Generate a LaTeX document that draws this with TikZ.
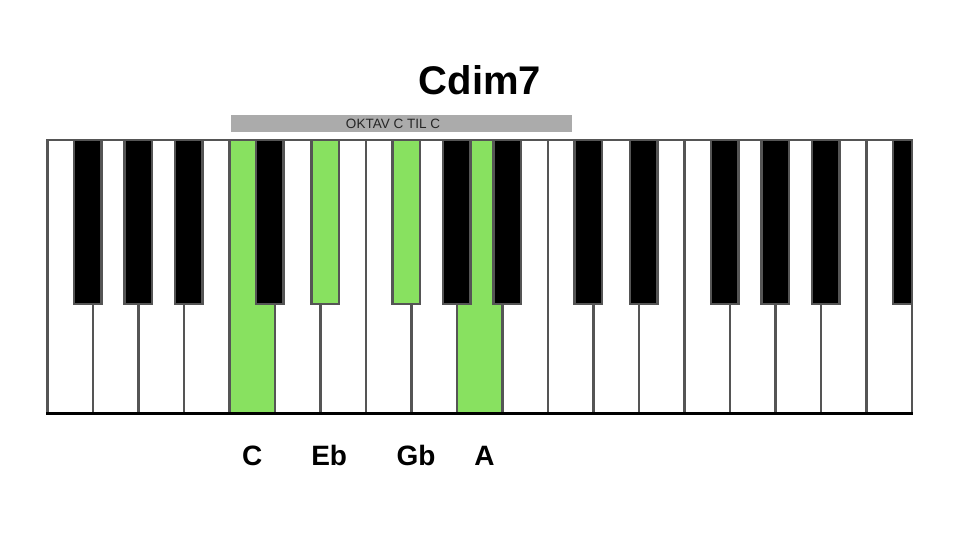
\documentclass[tikz,border=0pt]{standalone}
\usepackage{fontspec}
\setmainfont{Liberation Sans}
\definecolor{keygreen}{HTML}{88E160}
\definecolor{edgegray}{HTML}{555555}
\definecolor{bargray}{HTML}{ABABAB}
\begin{document}
\begin{tikzpicture}[x=1pt,y=-1pt,
  divider/.style={draw=edgegray,line width=2.5pt},
  blackkey/.style={draw=edgegray,line width=2.5pt},
  notelabel/.style={font=\fontsize{28}{30}\selectfont\bfseries,anchor=base,inner sep=0pt}]
\useasboundingbox (0,0) rectangle (960,540);
\fill[white] (0,0) rectangle (960,540);
% title
\node[font=\fontsize{40}{42}\selectfont\bfseries,inner sep=0pt,anchor=base] (title) at (480,95) {Cdim7};
% octave bar
\fill[bargray] (231,115) rectangle (571.7,131.7);
\node[font=\fontsize{13.5}{14}\selectfont,text=black!85,inner sep=0pt] (bar) at (393,124) {OKTAV C TIL C};
% white keys background
\fill[white] (47.3,140) rectangle (911.8,413.3);
\foreach \i in {4,9}
  \fill[keygreen] ({47.3+45.5*\i},140) rectangle ({47.3+45.5*(\i+1)},413.3);
\foreach \i in {1,...,18}
  \draw[divider] ({47.3+45.5*\i},140) -- ({47.3+45.5*\i},413.3);
% black keys
\begin{scope}
\clip (47.3,139) rectangle (911.8,414);
\foreach \d/\o/\c in {1/-5/black,2/0/black,3/5/black,5/-5/black,6/5/keygreen,8/-5/keygreen,9/0/black,10/5/black,12/-5/black,13/5/black,15/-5/black,16/0/black,17/5/black,19/-5/black}
  \filldraw[blackkey,fill=\c] ({47.3+45.5*\d+\o-13.8},140) rectangle ({47.3+45.5*\d+\o+13.8},304);
\end{scope}
% frame
\draw[draw=edgegray,line width=2.5pt] (47.3,413.3) -- (47.3,140) -- (911.8,140) -- (911.8,413.3);
\draw[black,line width=2.5pt] (46,413.3) -- (913,413.3);
% note labels
\node[notelabel] (c) at (252.2,465.5) {C};
\node[notelabel] (eb) at (329.2,465.5) {Eb};
\node[notelabel] (gb) at (416,465.5) {Gb};
\node[notelabel] (a) at (484.5,465.5) {A};
\end{tikzpicture}
\end{document}
